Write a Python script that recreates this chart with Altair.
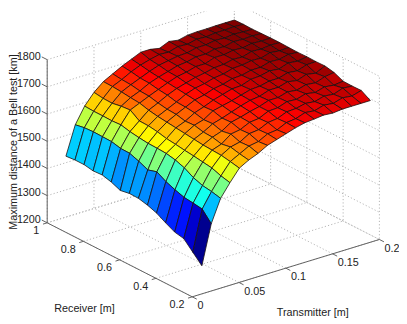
import altair as alt

T_VALUES = [0.02, 0.03, 0.04, 0.05, 0.06, 0.07, 0.08, 0.09, 0.10, 0.11, 0.12, 0.13, 0.14, 0.15, 0.16, 0.17, 0.18, 0.19, 0.20]
R_VALUES = [0.25, 0.30, 0.35, 0.40, 0.45, 0.50, 0.55, 0.60, 0.65, 0.70, 0.75, 0.80, 0.85, 0.90, 0.95, 1.00]

# one row per transmitter value, one column per receiver value
Z_T02 = [1276, 1309, 1342, 1349, 1366, 1385, 1397, 1405, 1406, 1400, 1414, 1423, 1421, 1427, 1427, 1424]
Z_T03 = [1420, 1457, 1462, 1466, 1477, 1490, 1509, 1499, 1514, 1526, 1527, 1535, 1536, 1537, 1535, 1529]
Z_T04 = [1503, 1511, 1516, 1528, 1547, 1559, 1566, 1568, 1569, 1573, 1578, 1586, 1584, 1585, 1585, 1587]
Z_T05 = [1550, 1558, 1570, 1575, 1580, 1584, 1589, 1593, 1601, 1606, 1607, 1630, 1627, 1621, 1622, 1627]
Z_T06 = [1593, 1600, 1606, 1608, 1610, 1614, 1618, 1622, 1626, 1630, 1636, 1645, 1648, 1652, 1655, 1656]
Z_T07 = [1612, 1618, 1626, 1620, 1628, 1630, 1638, 1636, 1644, 1646, 1652, 1660, 1662, 1668, 1670, 1674]
Z_T08 = [1626, 1636, 1634, 1646, 1640, 1650, 1648, 1656, 1660, 1662, 1670, 1674, 1680, 1682, 1688, 1692]
Z_T09 = [1645, 1642, 1654, 1652, 1662, 1660, 1670, 1668, 1676, 1680, 1684, 1688, 1692, 1696, 1702, 1707]
Z_T10 = [1656, 1660, 1658, 1668, 1670, 1672, 1678, 1682, 1684, 1692, 1694, 1700, 1702, 1708, 1712, 1722]
Z_T11 = [1667, 1664, 1674, 1672, 1680, 1684, 1686, 1692, 1696, 1698, 1704, 1706, 1712, 1714, 1720, 1722]
Z_T12 = [1678, 1680, 1678, 1688, 1688, 1694, 1696, 1702, 1702, 1708, 1710, 1716, 1716, 1720, 1718, 1715]
Z_T13 = [1686, 1684, 1692, 1690, 1700, 1698, 1706, 1704, 1712, 1712, 1718, 1716, 1724, 1722, 1728, 1730]
Z_T14 = [1689, 1696, 1694, 1702, 1700, 1710, 1708, 1716, 1714, 1722, 1720, 1728, 1724, 1730, 1726, 1724]
Z_T15 = [1693, 1692, 1702, 1700, 1710, 1710, 1716, 1718, 1722, 1724, 1728, 1728, 1732, 1730, 1734, 1732]
Z_T16 = [1690, 1702, 1698, 1710, 1706, 1720, 1716, 1726, 1722, 1730, 1726, 1734, 1730, 1736, 1732, 1734]
Z_T17 = [1694, 1698, 1708, 1704, 1716, 1714, 1726, 1722, 1732, 1728, 1736, 1732, 1738, 1734, 1736, 1734]
Z_T18 = [1694, 1708, 1704, 1714, 1712, 1726, 1722, 1734, 1730, 1738, 1734, 1738, 1736, 1738, 1736, 1735]
Z_T19 = [1694, 1704, 1716, 1710, 1724, 1720, 1734, 1730, 1738, 1734, 1738, 1736, 1738, 1736, 1738, 1735]
Z_T20 = [1694, 1714, 1713, 1714, 1729, 1736, 1735, 1736, 1735, 1736, 1737, 1737, 1736, 1735, 1736, 1735]
Z = [Z_T02, Z_T03, Z_T04, Z_T05, Z_T06, Z_T07, Z_T08, Z_T09, Z_T10, Z_T11, Z_T12, Z_T13, Z_T14, Z_T15, Z_T16, Z_T17, Z_T18, Z_T19, Z_T20]

T_TICKS = [0, 0.05, 0.1, 0.15, 0.2]
T_LABELS = ["0", "0.05", "0.1", "0.15", "0.2"]
R_TICKS = [0.2, 0.4, 0.6, 0.8, 1.0]
R_LABELS = ["0.2", "0.4", "0.6", "0.8", "1"]
Z_TICKS = [1200, 1300, 1400, 1500, 1600, 1700, 1800]
Z_LABELS = ["1200", "1300", "1400", "1500", "1600", "1700", "1800"]
JET = ["#00008f", "#0000ff", "#00ffff", "#ffff00", "#ff0000", "#800000"]
JET_STOPS = [0, 0.125, 0.375, 0.625, 0.875, 1]
Z_MIN, Z_MAX = 1276, 1738
FONT = "Liberation Sans"
FS = 11
TEXT = "#222222"


def proj(t, r, z):
    """Orthographic view of the 3-D box, in chart pixels."""
    return [196 + 955 * t - 185 * (r - 0.2) - 8,
            299.5 - 292.5 * t - 94.4 * (r - 0.2) - 0.2775 * (z - 1200) - 8]


def line(*pts):
    return {"type": "Feature", "properties": {},
            "geometry": {"type": "LineString", "coordinates": [proj(*p) for p in pts]}}


def fc(features):
    return alt.InlineData(values={"type": "FeatureCollection", "features": features},
                          format=alt.DataFormat(property="features", type="json"))


# back walls and floor
grid = []
for t in T_TICKS:
    grid.append(line((t, 0.2, 1200), (t, 1, 1200), (t, 1, 1800)))
for r in R_TICKS:
    grid.append(line((0, r, 1200), (0.2, r, 1200), (0.2, r, 1800)))
for z in Z_TICKS:
    grid.append(line((0, 1, z), (0.2, 1, z), (0.2, 0.2, z)))

# surface, painted from the far corner to the near one
cells = []
for i in range(len(T_VALUES) - 2, -1, -1):
    for j in range(len(R_VALUES) - 2, -1, -1):
        ring = [(i, j), (i + 1, j), (i + 1, j + 1), (i, j + 1), (i, j)]
        coords = [proj(T_VALUES[a], R_VALUES[b], Z[a][b]) for a, b in ring]
        cells.append({"type": "Feature", "properties": {"z": Z[i][j]},
                      "geometry": {"type": "Polygon", "coordinates": [coords]}})

axes = [line((0, 1, 1200), (0, 1, 1800)),
        line((0, 0.2, 1200), (0, 1, 1200)),
        line((0, 0.2, 1200), (0.2, 0.2, 1200))]
for z in Z_TICKS:
    axes.append(line((0, 1, z), (0, 1.03, z)))
for r in R_TICKS:
    axes.append(line((0, r, 1200), (-0.0045, r, 1200)))
for t in T_TICKS:
    axes.append(line((t, 0.2, 1200), (t, 0.175, 1200)))


def texts(rows):
    return alt.Data(values=[{"lon": x, "lat": y, "label": s} for x, y, s in rows])


PROJ = dict(type="identity", scale=1, translate=[0, 0])


def text_layer(rows, align="center", angle=0):
    return (alt.Chart(texts(rows))
            .mark_text(font=FONT, fontSize=FS, color=TEXT, align=align, baseline="middle", angle=angle)
            .encode(longitude="lon:Q", latitude="lat:Q", text="label:N")
            .project(**PROJ))


grid_layer = (alt.Chart(fc(grid))
              .mark_geoshape(filled=False, stroke="#b4b4b4", strokeWidth=1, strokeDash=[1.2, 2.2])
              .project(**PROJ))

surface = (alt.Chart(fc(cells))
           .mark_geoshape(stroke="#1a1010", strokeWidth=0.8, strokeJoin="round")
           .encode(color=alt.Color("properties.z:Q", legend=None,
                                   scale=alt.Scale(domain=[Z_MIN + f * (Z_MAX - Z_MIN) for f in JET_STOPS],
                                                   range=JET, interpolate="rgb", clamp=True)))
           .project(**PROJ))

axis_layer = (alt.Chart(fc(axes))
              .mark_geoshape(filled=False, stroke="#606060", strokeWidth=1)
              .project(**PROJ))

z_rows = [(proj(0, 1, z)[0] - 6.5, proj(0, 1, z)[1] - 3, s) for z, s in zip(Z_TICKS, Z_LABELS)]
r_rows = [(proj(0, r, 1200)[0] - 8, proj(0, r, 1200)[1] + 8.5, s) for r, s in zip(R_TICKS, R_LABELS)]
t_rows = [(proj(t, 0.2, 1200)[0] + 5.3, proj(t, 0.2, 1200)[1] + 9.5, s) for t, s in zip(T_TICKS, T_LABELS)]

chart = (alt.layer(
    grid_layer, surface, axis_layer,
    text_layer(z_rows, align="right"),
    text_layer(r_rows, align="right"),
    text_layer(t_rows, align="left"),
    text_layer([(78, 304, "Receiver [m]")]),
    text_layer([(311, 308.3, "Transmitter [m]")]),
    text_layer([(6, 133.5, "Maximum distance of a Bell test [km]")], angle=270),
).properties(width=399, height=316, padding=0, autosize="none", background="white")
 .configure_view(strokeWidth=0))

chart.save("out.html", embed_options={"renderer": "svg", "actions": False})
